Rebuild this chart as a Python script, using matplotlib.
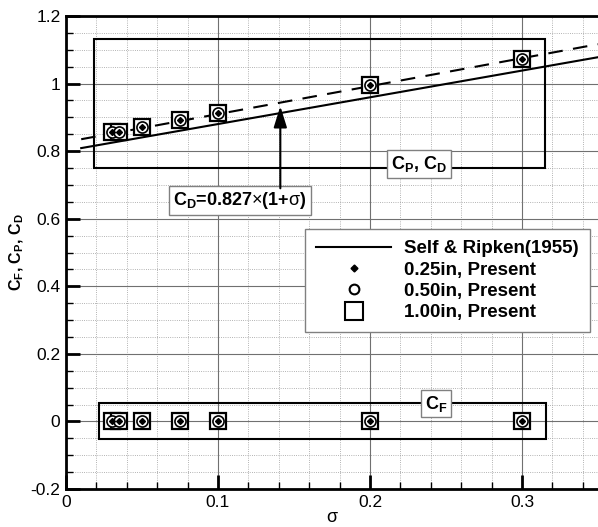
import matplotlib
matplotlib.use("Agg")
import matplotlib.pyplot as plt
from matplotlib.patches import Rectangle
from matplotlib.ticker import MultipleLocator, FuncFormatter
import numpy as np

plt.rcParams['font.family'] = ['Liberation Sans', 'DejaVu Sans']
plt.rcParams['mathtext.fontset'] = 'custom'
plt.rcParams['mathtext.rm'] = 'Liberation Sans'
plt.rcParams['mathtext.bf'] = 'Liberation Sans:bold'
plt.rcParams['mathtext.it'] = 'Liberation Sans:italic'
plt.rcParams['mathtext.sf'] = 'Liberation Sans'

# cavitation number and measured coefficients
sigma = [0.03, 0.035, 0.05, 0.075, 0.1, 0.2, 0.3]
cpcd_025 = [0.856, 0.857, 0.871, 0.892, 0.912, 0.995, 1.072]
cpcd_050 = [0.856, 0.857, 0.871, 0.892, 0.912, 0.995, 1.072]
cpcd_100 = [0.856, 0.857, 0.871, 0.892, 0.912, 0.995, 1.072]
cf_025 = [0, 0, 0, 0, 0, 0, 0]
cf_050 = [0, 0, 0, 0, 0, 0, 0]
cf_100 = [0, 0, 0, 0, 0, 0, 0]

# Self & Ripken (1955) reference line
sr_sigma = [0.01, 0.35]
sr_cd = [0.809, 1.078]

# drag fit C_D = 0.827 (1 + sigma)
fit_coef = 0.827
fit_sigma = np.array([0.01, 0.35])

fig = plt.figure(figsize=(5.98, 5.27), dpi=100)
ax = fig.add_axes([66/598, 38/527, 532/598, 473/527])

ax.set_xlim(0, 0.35)
ax.set_ylim(-0.2, 1.2)

ax.xaxis.set_major_locator(MultipleLocator(0.1))
ax.xaxis.set_minor_locator(MultipleLocator(0.02))
ax.yaxis.set_major_locator(MultipleLocator(0.2))
ax.yaxis.set_minor_locator(MultipleLocator(0.05))
fmt = FuncFormatter(lambda v, p: ('%g' % round(v, 6)))
ax.xaxis.set_major_formatter(fmt)
ax.yaxis.set_major_formatter(fmt)

ax.grid(which='major', color='#707070', lw=0.8, ls='-')
ax.grid(which='minor', color='#9a9a9a', lw=0.6, ls=':')
ax.set_axisbelow(True)

for s in ['left', 'bottom', 'top']:
    ax.spines[s].set_linewidth(2)
ax.spines['right'].set_visible(False)
ax.tick_params(which='major', direction='in', length=10, width=2, labelsize=12.5,
               top=False, right=False, pad=4)
ax.tick_params(which='minor', direction='in', length=5, width=1, top=False, right=False)

# annotation frames around the two groups
ax.add_patch(Rectangle((0.0185, 0.75), 0.2965, 0.381, fill=False, ec='black', lw=1.5, zorder=3))
ax.add_patch(Rectangle((0.022, -0.052), 0.294, 0.106, fill=False, ec='black', lw=1.5, zorder=3))

# lines
ax.plot(sr_sigma, sr_cd, color='black', lw=1.5, zorder=4)
ax.plot(fit_sigma, fit_coef * (1 + fit_sigma), color='black', lw=1.5, ls=(0, (7, 5)), zorder=4)

# measurements
for v100, v050, v025 in [(cpcd_100, cpcd_050, cpcd_025), (cf_100, cf_050, cf_025)]:
    ax.plot(sigma, v100, ls='none', marker='s', ms=12, mfc='white', mec='black', mew=1.6, zorder=5)
    ax.plot(sigma, v050, ls='none', marker='o', ms=8, mfc='white', mec='black', mew=1.2, zorder=6)
    ax.plot(sigma, v025, ls='none', marker='D', ms=3, mfc='black', mec='black', zorder=7)

# legend
h_line, = ax.plot([], [], color='black', lw=1.5)
h_025, = ax.plot([], [], ls='none', marker='D', ms=3.5, mfc='black', mec='black')
h_050, = ax.plot([], [], ls='none', marker='o', ms=7, mfc='white', mec='black', mew=1.5)
h_100, = ax.plot([], [], ls='none', marker='s', ms=13, mfc='white', mec='black', mew=1.5)
leg = ax.legend([h_line, h_025, h_050, h_100],
                ['Self & Ripken(1955)', '0.25in, Present', '0.50in, Present', '1.00in, Present'],
                loc='upper left', bbox_to_anchor=((305 - 66) / 532, (489 - 229) / 473),
                prop={'weight': 'bold', 'size': 13.5}, handlelength=4.0, handletextpad=0.7,
                labelspacing=0.22, borderpad=0.6, borderaxespad=0, fancybox=False,
                framealpha=1, edgecolor='#808080')
leg.get_frame().set_linewidth(1.0)
leg.set_zorder(8)

box = dict(boxstyle='square,pad=0.22', fc='white', ec='#808080', lw=1.0)
ax.text(0.2325, 0.762, r'C$_\mathbf{P}$, C$_\mathbf{D}$', fontsize=13, fontweight='bold',
        ha='center', va='center', bbox=box, zorder=9)
ax.text(0.2435, 0.053, r'C$_\mathbf{F}$', fontsize=13, fontweight='bold',
        ha='center', va='center', bbox=box, zorder=9)
ax.text(0.1145, 0.655, r'C$_\mathbf{D}$=0.827${\times}$(1+$\mathrm{σ}$)',
        fontsize=13, fontweight='bold', ha='center', va='center', bbox=box, zorder=9)
ax.annotate('', xy=(0.141, 0.933), xytext=(0.141, 0.69),
            arrowprops=dict(arrowstyle='-|>,head_length=0.8,head_width=0.25', color='black',
                            lw=1.5, mutation_scale=16, shrinkA=0, shrinkB=0), zorder=9)

fig.text(332/598, 1 - 518/527, 'σ', fontsize=13, ha='center', va='center')
ax.set_ylabel(r'C$_\mathbf{F}$, C$_\mathbf{P}$, C$_\mathbf{D}$', fontsize=11.5,
              fontweight='bold', labelpad=3)

fig.savefig('out.png', dpi=100)
